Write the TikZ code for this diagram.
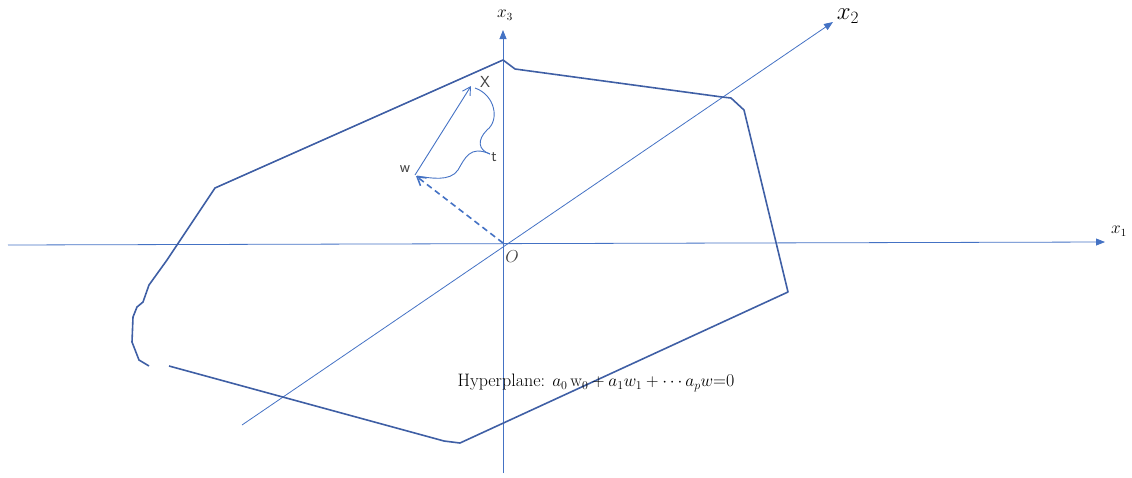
\documentclass[tikz,border=0pt]{standalone}
\usetikzlibrary{arrows.meta}
\definecolor{axis}{HTML}{4472C4}
\definecolor{poly}{HTML}{3F5FA5}
\definecolor{txt}{HTML}{404040}
\tikzset{
  axisline/.style={draw=axis, line width=0.8pt, -{Triangle[length=9pt,width=7pt]}},
  polyline/.style={draw=poly, line width=1.6pt, line join=round},
  vecline/.style={draw=axis, line width=0.9pt, -{Straight Barb[length=8pt,width=9pt]}},
  lbl/.style={inner sep=0pt, text=txt, font=\sffamily\fontsize{16}{16}\selectfont},
  axlbl/.style={inner sep=0pt, font=\fontsize{16}{16}\selectfont},
}
\begin{document}
\begin{tikzpicture}[x=1pt,y=-1pt]
\useasboundingbox (0,0) rectangle (1132,477);
% axes
\coordinate (O) at (503,243);
\coordinate (x1s) at (8,245);
\coordinate (x1e) at (1105,242);
\coordinate (x3s) at (503,473);
\coordinate (x3e) at (503,30);
\coordinate (x2s) at (242,425);
\coordinate (x2e) at (833,22);
\draw[axisline] (x1s) -- (x1e);
\draw[axisline] (x3s) -- (x3e);
\draw[axisline] (x2s) -- (x2e);
\node[axlbl] (lx1) at (1119,231) {$x_1$};
\node[axlbl] (lx3) at (505,15) {$x_3$};
\node[inner sep=0pt, font=\fontsize{27}{27}\selectfont] (lx2) at (848,16) {$x_2$};
\node[axlbl, text=txt] (lO) at (512,257) {$O$};
% polygon
\draw[polyline] (503,60) -- (515,69) -- (722,97) -- (731,98) -- (744,110) -- (788,292)
  -- (460,443) -- (444,441) -- (169,366);
\draw[polyline] (149,366) -- (139,360) -- (132,342) -- (133,317) -- (137,307) -- (143,302)
  -- (149,285) -- (167,260) -- (215,188) -- (503,60);
% vectors
\coordinate (W) at (415,175);
\coordinate (Xt) at (471,86);
\draw[vecline] (W) -- (Xt);
\draw[axis, line width=1.6pt, dashed, dash pattern=on 6pt off 4pt, -{Straight Barb[length=8pt,width=10pt]}] (O) -- (416,176);
% brace
\draw[axis, line width=0.9pt] (475,88) .. controls (495,95) and (500,120) .. (487,130)
  .. controls (477,140) and (478,150) .. (490,154);
\draw[axis, line width=0.9pt] (490,154) .. controls (470,145) and (465,158) .. (458,170)
  .. controls (450,182) and (430,178) .. (417,176);
\node[lbl] (lX) at (485,82) {X};
\node[lbl] (lW) at (405,169) {w};
\node[lbl] (lt) at (494,157) {t};
% hyperplane text
\node[inner sep=0pt, text=black, font=\fontsize{18}{18}\selectfont] (hp) at (596,383)
  {Hyperplane: $a_0\,\mathrm{w}_0 + a_1 w_1 + \cdots a_p w$=0};
\end{tikzpicture}
\end{document}
